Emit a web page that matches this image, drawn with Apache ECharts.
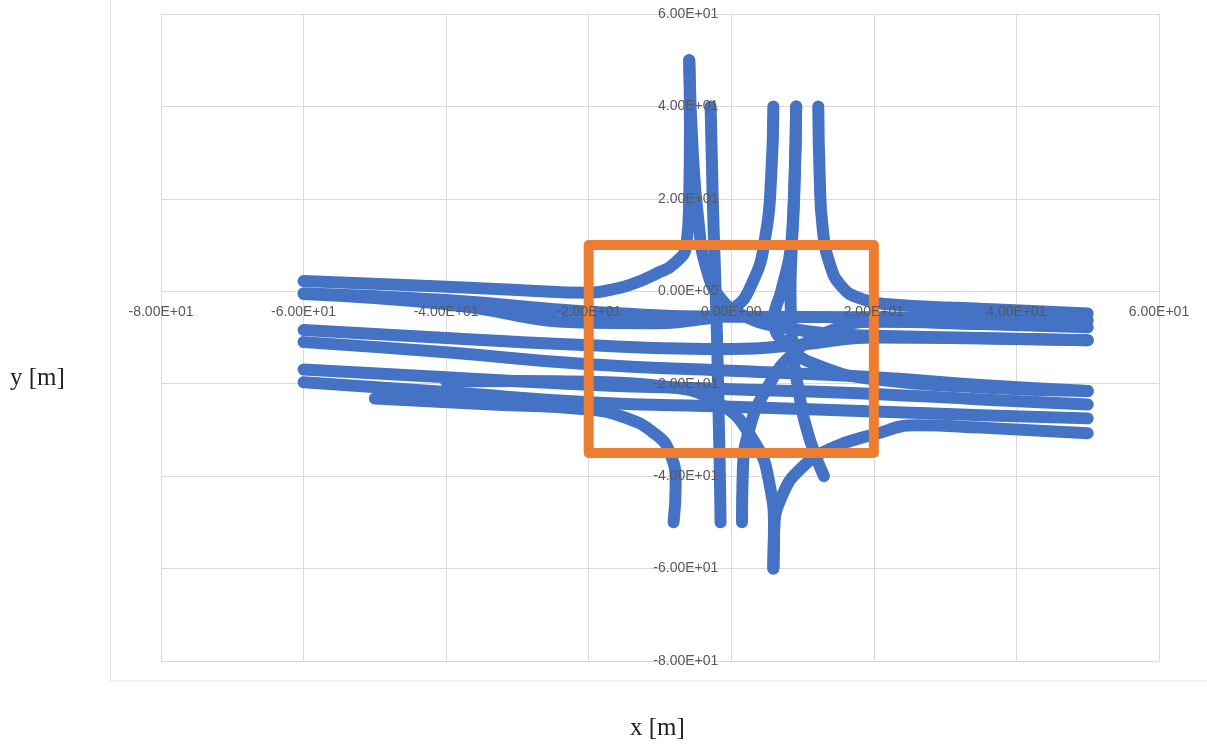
<!DOCTYPE html>
<html>
<head>
<meta charset="utf-8">
<script src="https://cdn.jsdelivr.net/npm/echarts@6/dist/echarts.min.js"></script>
<style>
html,body{margin:0;padding:0;background:#fff;}
#chart{width:1207px;height:744px;}
</style>
</head>
<body>
<div id="chart"></div>
<script>
// Axis ticks
const xTicks = [-80, -60, -40, -20, 0, 20, 40, 60];
const yTicks = [-80, -60, -40, -20, 0, 20, 40, 60];

// Trajectories [x, y] in metres
const trajNorthWest = [[-5.9,50],[-5.8,35],[-5.9,20],[-6.3,10],[-8,6],[-10.4,3.9],[-14,1.5],[-17,0.3],[-20,-0.3],[-30,0.3],[-45,1.3],[-60,2.2]];
const trajNorthSouth = [[-2.9,40],[-2.6,20],[-2.3,5],[-2.0,-10],[-1.8,-25],[-1.6,-40],[-1.5,-50]];
const trajNorthEastA = [[-5.9,50],[-5.4,30],[-4.6,15],[-3.5,5],[-1.5,-1.5],[2,-5.5],[8,-8],[15,-9.3],[20,-9.6],[35,-10.1],[50,-10.6]];
const trajNorthEastB = [[12.2,40],[12.4,25],[12.8,14],[13.8,6],[15.5,1],[18,-1.5],[22,-2.8],[35,-3.8],[50,-4.8]];
const trajNorthSouthB = [[9.1,40],[8.9,25],[8.5,10],[8.3,0],[8.5,-10],[9.5,-22],[11,-32],[13,-40]];
const trajNorthWestB = [[5.9,40],[5.6,25],[4.8,12],[3,2],[0,-4],[-5,-6.2],[-12,-6.9],[-20,-6.8],[-40,-2.8],[-60,-0.6]];
const trajWestEast1 = [[-60,-0.4],[-40,-1.9],[-20,-4.4],[0,-5.5],[20,-5.6],[35,-5.9],[50,-6.3]];
const trajWestEast2 = [[-60,-8.4],[-40,-10.1],[-20,-11.7],[0,-12.5],[10,-11.5],[20,-10],[35,-10.2],[50,-10.6]];
const trajWestEast3 = [[-60,-11],[-40,-13.2],[-20,-15.8],[0,-17.2],[20,-18.6],[35,-20.3],[50,-21.6]];
const trajWestEast4 = [[-60,-16.9],[-40,-18.6],[-20,-20.2],[0,-21.2],[20,-22.2],[35,-23.4],[50,-24.5]];
const trajWestEast5 = [[-60,-19.7],[-40,-21.8],[-20,-24],[0,-25],[20,-26],[35,-26.8],[50,-27.5]];
const trajWestSouth = [[-50,-23.2],[-35,-24.4],[-20,-25.6],[-15,-27.3],[-11,-30.5],[-8.6,-35],[-7.8,-42],[-8.1,-50]];
const trajSouthEast = [[5.9,-60],[6,-52],[7.2,-44],[10,-38],[14,-34],[20,-31],[26,-29],[35,-29.5],[50,-30.7]];
const trajSouthEastB = [[1.5,-50],[1.6,-40],[2.5,-30],[5,-21],[9,-13],[14,-8.5],[20,-6.6],[35,-7.1],[50,-7.8]];
const trajSouthWest = [[5.9,-60],[6,-52],[5.4,-42],[3,-32],[-2,-24],[-10,-20.5],[-20,-19.6],[-30,-19.4],[-40,-19.5]];
const trajNorthEastC = [[9.1,40],[8.9,25],[8.4,10],[7,0],[6,-6],[8,-12],[13,-16.5],[20,-19],[35,-20.8],[50,-21.6]];

// Region of interest (orange box)
const boxRect = [[-20,10],[20,10],[20,-35],[-20,-35],[-20,10]];

const trajectories = [trajNorthWest, trajNorthSouth, trajNorthEastA, trajNorthEastB, trajNorthSouthB,
  trajNorthWestB, trajWestEast1, trajWestEast2, trajWestEast3, trajWestEast4, trajWestEast5,
  trajWestSouth, trajSouthEast, trajSouthEastB, trajSouthWest, trajNorthEastC];

function sci(v) {
  if (v === 0) return '0.00E+00';
  const s = v < 0 ? '-' : '';
  const a = Math.abs(v);
  let e = Math.floor(Math.log10(a));
  let m = a / Math.pow(10, e);
  if (Math.round(m * 100) >= 1000) { m /= 10; e += 1; }
  const es = (e < 0 ? '-' : '+') + String(Math.abs(e)).padStart(2, '0');
  return s + m.toFixed(2) + 'E' + es;
}

const W = 1207, H = 744;
const G = {left: 161, right: 48, top: 14, bottom: 83};
const xMin = xTicks[0], xMax = xTicks[xTicks.length - 1];
const yMin = yTicks[0], yMax = yTicks[yTicks.length - 1];
const plotW = W - G.left - G.right, plotH = H - G.top - G.bottom;
// shift label axes from the plot edges onto the zero lines
const xAxisShift = -plotH * (0 - yMin) / (yMax - yMin);
const yAxisShift = -plotW * (0 - xMin) / (xMax - xMin);

const chart = echarts.init(document.getElementById('chart'), null, {renderer: 'canvas'});
const gridPos = Object.assign({containLabel: false, outerBoundsMode: 'none'}, G);
const labelStyle = {color: '#595959', fontSize: 14, fontFamily: 'Liberation Sans, Arial, sans-serif'};

const series = trajectories.map(t => ({
  type: 'line', xAxisIndex: 0, yAxisIndex: 0, data: t, smooth: 0.5, showSymbol: false, symbol: 'none',
  lineStyle: {color: '#4472C4', width: 12, cap: 'round', join: 'round'}, z: 3, silent: true
}));
series.push({
  type: 'line', xAxisIndex: 0, yAxisIndex: 0, data: boxRect, showSymbol: false, symbol: 'none',
  lineStyle: {color: '#ED7D31', width: 10, cap: 'round', join: 'round'}, z: 4, silent: true
});

const option = {
  animation: false,
  backgroundColor: '#ffffff',
  grid: [Object.assign({}, gridPos), Object.assign({}, gridPos)],
  xAxis: [
    {type: 'value', gridIndex: 0, min: xMin, max: xMax, interval: 20,
     axisLine: {show: false, onZero: false}, axisTick: {show: false}, axisLabel: {show: false},
     splitLine: {show: true, lineStyle: {color: '#d9d9d9', width: 1}}},
    {type: 'value', gridIndex: 1, min: xMin, max: xMax, interval: 20, z: 10,
     position: 'bottom', offset: xAxisShift,
     axisLine: {show: false, onZero: false}, axisTick: {show: false}, splitLine: {show: false},
     axisLabel: Object.assign({show: true, margin: 14, formatter: v => sci(v)}, labelStyle)}
  ],
  yAxis: [
    {type: 'value', gridIndex: 0, min: yMin, max: yMax, interval: 20,
     axisLine: {show: false, onZero: false}, axisTick: {show: false}, axisLabel: {show: false},
     splitLine: {show: true, lineStyle: {color: '#d9d9d9', width: 1}}},
    {type: 'value', gridIndex: 1, min: yMin, max: yMax, interval: 20, z: 10,
     position: 'left', offset: yAxisShift,
     axisLine: {show: false, onZero: false}, axisTick: {show: false}, splitLine: {show: false},
     axisLabel: Object.assign({show: true, margin: 13, formatter: v => sci(v)}, labelStyle)}
  ],
  graphic: [
    {type: 'rect', shape: {x: 110.5, y: -2, width: 1110, height: 683}, style: {fill: 'none', stroke: '#e6e6e6', lineWidth: 1}, z: -1, silent: true},
    {type: 'text', left: 10, top: 366, style: {text: 'y [m]', fill: '#222', font: '25px "Liberation Serif", "DejaVu Serif", serif'}},
    {type: 'text', left: 630, top: 716, style: {text: 'x [m]', fill: '#222', font: '25px "Liberation Serif", "DejaVu Serif", serif'}}
  ],
  series: series
};
chart.setOption(option);
</script>
</body>
</html>
